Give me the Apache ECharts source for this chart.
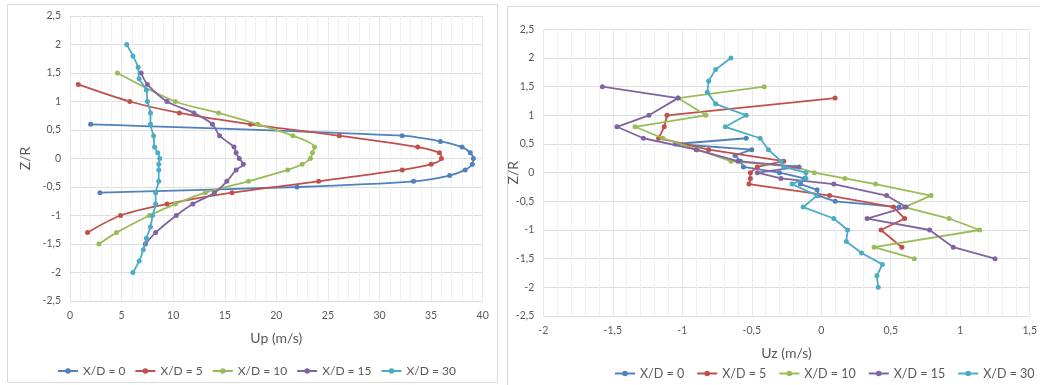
<!DOCTYPE html>
<html><head><meta charset="utf-8">
<script src="https://cdn.jsdelivr.net/npm/echarts@6/dist/echarts.min.js"></script>
<style>html,body{margin:0;padding:0;background:#fff}#c{width:1040px;height:385px}</style>
</head><body><div id="c"></div>
<script>
// ---------- data ----------
const seriesNames = ['X/D = 0', 'X/D = 5', 'X/D = 10', 'X/D = 15', 'X/D = 30'];
const colors = ['#4F81BD', '#C0504D', '#9BBB59', '#8064A2', '#4BACC6'];

// Left chart: Up (m/s) vs Z/R
const upZ0 = [0.6, 0.4, 0.3, 0.2, 0.1, 0, -0.1, -0.2, -0.3, -0.4, -0.5, -0.6];
const up0 = [2.0, 32.2, 35.9, 38.0, 38.8, 39.1, 39.0, 38.3, 36.8, 33.3, 22.0, 2.9];
const upZ5 = [1.3, 1.0, 0.8, 0.6, 0.4, 0.2, 0.1, 0, -0.1, -0.2, -0.4, -0.6, -0.8, -1.0, -1.3];
const up5 = [0.8, 5.8, 10.6, 17.5, 26.1, 33.7, 35.8, 36.0, 35.0, 32.2, 24.1, 15.7, 9.4, 4.9, 1.7];
const upZ10 = [1.5, 1.0, 0.8, 0.6, 0.4, 0.2, 0.1, 0, -0.1, -0.2, -0.4, -0.6, -0.8, -1.0, -1.3, -1.5];
const up10 = [4.6, 10.2, 14.4, 18.2, 21.6, 23.7, 23.5, 23.3, 22.5, 21.1, 17.3, 13.1, 10.2, 7.7, 4.5, 2.8];
const upZ15 = [1.5, 1.3, 1.0, 0.8, 0.6, 0.4, 0.2, 0.1, 0, -0.1, -0.2, -0.4, -0.6, -0.8, -1.0, -1.3, -1.5];
const up15 = [6.9, 7.5, 9.4, 12.0, 13.8, 14.5, 15.9, 16.1, 16.4, 16.8, 16.1, 15.2, 14.0, 11.9, 10.3, 8.3, 7.3];
const upZ30 = [2.0, 1.8, 1.6, 1.4, 1.2, 1.0, 0.8, 0.6, 0.4, 0.2, 0.1, 0, -0.1, -0.2, -0.4, -0.6, -0.8, -1.0, -1.2, -1.4, -1.6, -1.8, -2.0];
const up30 = [5.5, 6.1, 6.6, 6.7, 7.4, 7.5, 7.8, 7.8, 8.1, 8.2, 8.5, 8.7, 8.6, 8.6, 8.6, 8.3, 8.3, 8.0, 7.8, 7.4, 7.1, 6.7, 6.1];

// Right chart: Uz (m/s) vs Z/R
const uzZ0 = [0.6, 0.5, 0.4, 0.3, 0.2, 0.1, 0, -0.1, -0.2, -0.3, -0.4, -0.5, -0.6];
const uz0 = [-0.54, -1.05, -0.50, -0.62, -0.58, -0.56, -0.30, -0.12, -0.15, -0.03, -0.02, 0.10, 0.56];
const uzZ5 = [1.3, 1.0, 0.8, 0.6, 0.4, 0.2, 0.1, 0, -0.1, -0.2, -0.4, -0.6, -0.8, -1.0, -1.3];
const uz5 = [0.10, -1.11, -1.13, -1.17, -0.81, -0.27, -0.46, -0.51, -0.51, -0.52, 0.06, 0.52, 0.60, 0.43, 0.58];
const uzZ10 = [1.5, 1.3, 1.0, 0.8, 0.6, 0.4, 0.2, 0.1, 0, -0.1, -0.2, -0.4, -0.6, -0.8, -1.0, -1.3, -1.5];
const uz10 = [-0.41, -1.03, -0.83, -1.34, -1.14, -0.89, -0.65, -0.19, -0.05, 0.17, 0.39, 0.79, 0.60, 0.92, 1.14, 0.38, 0.67];
const uzZ15 = [1.5, 1.3, 1.0, 0.8, 0.6, 0.4, 0.2, 0.1, 0, -0.1, -0.2, -0.4, -0.6, -0.8, -1.0, -1.3, -1.5];
const uz15 = [-1.575, -1.03, -1.24, -1.47, -1.28, -0.90, -0.60, -0.16, -0.46, -0.29, 0.09, 0.47, 0.61, 0.33, 0.78, 0.95, 1.25];
const uzZ30 = [2.0, 1.8, 1.6, 1.4, 1.2, 1.0, 0.8, 0.6, 0.4, 0.2, 0.1, 0, -0.1, -0.2, -0.4, -0.6, -0.8, -1.0, -1.2, -1.4, -1.6, -1.8, -2.0];
const uz30 = [-0.65, -0.76, -0.81, -0.82, -0.76, -0.54, -0.69, -0.44, -0.38, -0.29, -0.27, -0.11, -0.11, -0.21, -0.03, -0.13, 0.09, 0.19, 0.18, 0.29, 0.44, 0.40, 0.41];

// ---------- build ----------
const leftSets = [[up0, upZ0], [up5, upZ5], [up10, upZ10], [up15, upZ15], [up30, upZ30]];
const rightSets = [[uz0, uzZ0], [uz5, uzZ5], [uz10, uzZ10], [uz15, uzZ15], [uz30, uzZ30]];
const pairs = (xs, zs) => xs.map((x, i) => [x, zs[i]]);
const comma = v => String(v).replace('.', ',');
const FONT = 'Lato, "Liberation Sans", sans-serif';
const TXT = '#595959';

function xAxisCfg(grid, min, max, interval, name, gap) {
  return {
    gridIndex: grid, type: 'value', min: min, max: max, interval: interval,
    name: name, nameLocation: 'middle', nameGap: gap, nameMoveOverlap: false,
    nameTextStyle: { color: TXT, fontSize: 14, fontFamily: FONT },
    axisLine: { show: false }, axisTick: { show: false },
    axisLabel: { color: TXT, fontSize: 10.5, fontFamily: FONT, margin: 9, formatter: comma },
    splitLine: { show: true, lineStyle: { color: '#e8e8e8', width: 1 } },
    minorTick: { show: false, splitNumber: 5 },
    minorSplitLine: { show: true, lineStyle: { color: '#f1f1f1', width: 1 } }
  };
}
function yAxisCfg(grid, gap) {
  return {
    gridIndex: grid, type: 'value', min: -2.5, max: 2.5, interval: 0.5,
    name: 'Z/R', nameLocation: 'middle', nameGap: gap, nameRotate: 90, nameMoveOverlap: false,
    nameTextStyle: { color: TXT, fontSize: 14, fontFamily: FONT },
    axisLine: { show: false }, axisTick: { show: false },
    axisLabel: { color: TXT, fontSize: 10.5, fontFamily: FONT, margin: 9, formatter: comma },
    splitLine: { show: true, lineStyle: { color: '#dedede', width: 1 } }
  };
}

const series = [];
leftSets.forEach((s, i) => series.push({
  name: seriesNames[i], type: 'line', xAxisIndex: 0, yAxisIndex: 0,
  data: pairs(s[0], s[1]), smooth: 0.3, symbol: 'circle', symbolSize: 5,
  color: colors[i], lineStyle: { width: 1.8 }, z: 2 + i
}));
rightSets.forEach((s, i) => series.push({
  name: seriesNames[i], type: 'line', xAxisIndex: 1, yAxisIndex: 1,
  data: pairs(s[0], s[1]), smooth: false, symbol: 'circle', symbolSize: 5,
  color: colors[i], lineStyle: { width: 1.8 }, z: 2 + i
}));

function legendCfg(left, top, fs, gap) {
  return {
    data: seriesNames, left: left, top: top, width: 470, itemWidth: 20, itemHeight: 7, itemGap: gap,
    textStyle: { color: TXT, fontSize: fs, fontFamily: FONT }, selectedMode: false
  };
}

const option = {
  animation: false,
  backgroundColor: '#fff',
  graphic: [
    { type: 'rect', shape: { x: 7.5, y: 4.5, width: 490, height: 378 }, style: { fill: 'none', stroke: '#d9d9d9', lineWidth: 1 }, silent: true },
    { type: 'rect', shape: { x: 507.5, y: 6.5, width: 540, height: 385 }, style: { fill: 'none', stroke: '#d9d9d9', lineWidth: 1 }, silent: true }
  ],
  grid: [
    { left: 70, top: 16, width: 412.7, height: 285 },
    { left: 543.3, top: 29.3, width: 489, height: 286.7 }
  ],
  xAxis: [xAxisCfg(0, 0, 40, 5, 'Up (m/s)', 30), xAxisCfg(1, -2, 1.5, 0.5, 'Uz (m/s)', 30)],
  yAxis: [yAxisCfg(0, 38), yAxisCfg(1, 23)],
  legend: [legendCfg(52, 360, 12, 9), legendCfg(609, 362, 12.5, 12)],
  series: series
};

const chart = echarts.init(document.getElementById('c'), null, { renderer: 'canvas' });
chart.setOption(option);
</script></body></html>
